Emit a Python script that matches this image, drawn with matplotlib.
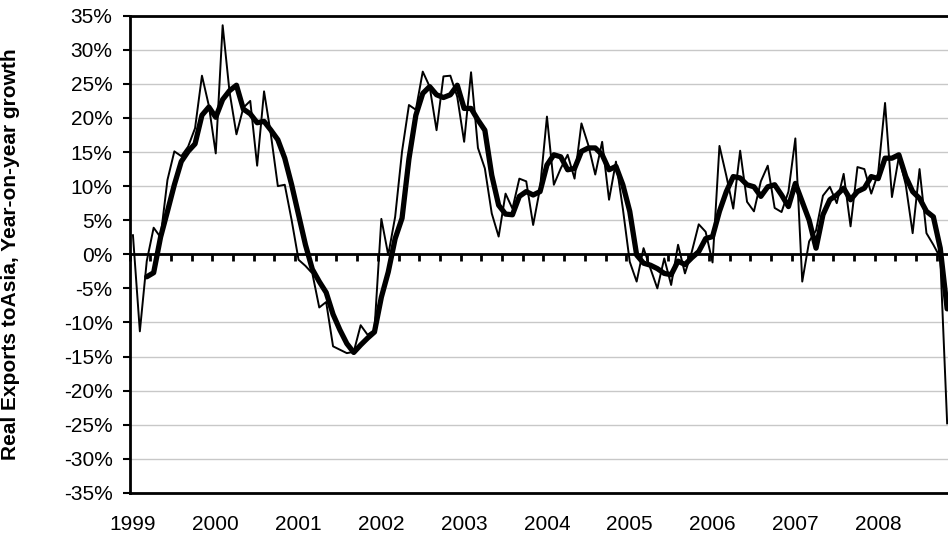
import numpy as np
import matplotlib
matplotlib.use("Agg")
import matplotlib.pyplot as plt

plt.rcParams['font.family'] = ['Liberation Sans', 'DejaVu Sans']

# monthly year-on-year growth, Jan 1999 .. Nov 2008 (%)
monthly = [2.8, -11.3, -1.0, 3.9, 2.5, 10.9, 15.1, 14.4, 15.8, 18.5, 26.2, 21.8,
           14.8, 33.6, 23.8, 17.6, 21.5, 22.5, 13.0, 23.9, 17.5, 10.0, 10.2, 5.0,
           -0.8, -1.7, -2.8, -7.8, -7.0, -13.5, -14.0, -14.5, -14.3, -10.4, -11.8, -11.1,
           5.2, -0.1, 5.5, 15.1, 21.9, 21.2, 26.8, 24.6, 18.2, 26.1, 26.2, 23.1,
           16.5, 26.7, 15.6, 12.6, 6.0, 2.6, 8.9, 6.7, 11.1, 10.7, 4.3, 9.7,
           20.2, 10.2, 12.6, 14.6, 11.1, 19.2, 16.0, 11.7, 16.5, 8.0, 13.6, 6.7,
           -1.1, -4.0, 0.9, -2.1, -5.0, -0.6, -4.5, 1.4, -2.8, 0.4, 4.4, 3.3,
           -1.2, 15.9, 11.5, 6.7, 15.2, 7.7, 6.3, 10.7, 13.0, 6.8, 6.2, 9.2,
           17.0, -4.0, 1.9, 3.5, 8.6, 9.9, 7.5, 11.8, 4.1, 12.8, 12.5, 8.9,
           11.9, 22.2, 8.4, 14.3, 10.2, 3.1, 12.5, 3.1, 1.4, -0.5, -24.8]

# smoothed series (thick line), starts Mar 1999
smooth_start = 2
smoothed = [-3.3, -2.7, 2.5, 6.3, 10.2, 13.6, 15.1, 16.2, 20.4, 21.6,
            20.1, 22.7, 24.0, 24.8, 21.3, 20.6, 19.3, 19.5, 18.2, 16.8, 14.1, 10.2,
            5.8, 1.4, -2.2, -4.0, -5.6, -8.8, -11.1, -13.1, -14.4, -13.3, -12.3, -11.4,
            -6.3, -2.6, 2.3, 5.3, 14.0, 20.4, 23.6, 24.6, 23.4, 23.0, 23.4, 24.8,
            21.4, 21.4, 19.7, 18.2, 11.6, 7.2, 5.9, 5.8, 8.5, 9.2, 8.7, 9.2,
            13.1, 14.6, 14.3, 12.4, 12.6, 15.1, 15.6, 15.6, 14.6, 12.4, 12.9, 10.2,
            6.3, -0.1, -1.3, -1.6, -2.1, -2.8, -3.0, -1.0, -1.5, -0.5, 0.4, 2.3,
            2.6, 6.3, 9.2, 11.4, 11.2, 10.2, 9.9, 8.5, 9.9, 10.2, 8.7, 7.0,
            10.4, 7.7, 5.0, 0.9, 5.8, 8.0, 8.7, 9.7, 8.0, 9.2, 9.7, 11.4,
            11.1, 14.1, 14.1, 14.6, 11.4, 9.2, 8.2, 6.3, 5.5, 0.9, -8.0]

years = ['1999', '2000', '2001', '2002', '2003', '2004', '2005', '2006', '2007', '2008']
n_months = 120

fig = plt.figure(figsize=(9.48, 5.37), dpi=100)
ax = fig.add_axes([129.5/948, 1 - 492.9/537, 828/948, (492.9 - 15.7)/537])

x1 = np.arange(len(monthly))
x2 = np.arange(smooth_start, smooth_start + len(smoothed))
ax.plot(x1, monthly, color='black', lw=1.4, solid_joinstyle='round', zorder=3)
ax.plot(x2, smoothed, color='black', lw=3.8, solid_joinstyle='round',
        solid_capstyle='round', zorder=4)

ax.set_xlim(-0.5, n_months - 0.5)
ax.set_ylim(-35, 35)
yt = np.arange(-35, 36, 5)
ax.set_yticks(yt)
ax.set_yticklabels([f'{v}%' for v in yt])
ax.yaxis.grid(True, color='#c8c8c8', lw=1)
ax.set_axisbelow(True)
ax.tick_params(axis='y', direction='out', length=4.8, width=1.5, pad=7.4, labelsize=15)

ax.set_xticks(np.arange(0, 12 * len(years), 12))
ax.set_xticklabels(years)
ax.tick_params(axis='x', length=0, pad=16, labelsize=15)

for s in ['left', 'top', 'bottom']:
    ax.spines[s].set_linewidth(2)
ax.spines['right'].set_visible(False)

# category axis crossing at zero, tick marks every quarter pointing down
ax.axhline(0, color='black', lw=2, zorder=2)
sec = ax.secondary_xaxis(0.5)
sec.set_xticks(np.arange(-0.5, n_months, 3))
sec.set_xticklabels([])
sec.tick_params(axis='x', direction='in', length=5.2, width=2)

ax.set_ylabel('Real Exports toAsia, Year-on-year growth', fontsize=15, fontweight='bold')
ax.yaxis.set_label_coords((20 - 129.5) / 828, 0.5)

fig.savefig('out.png', dpi=100)
